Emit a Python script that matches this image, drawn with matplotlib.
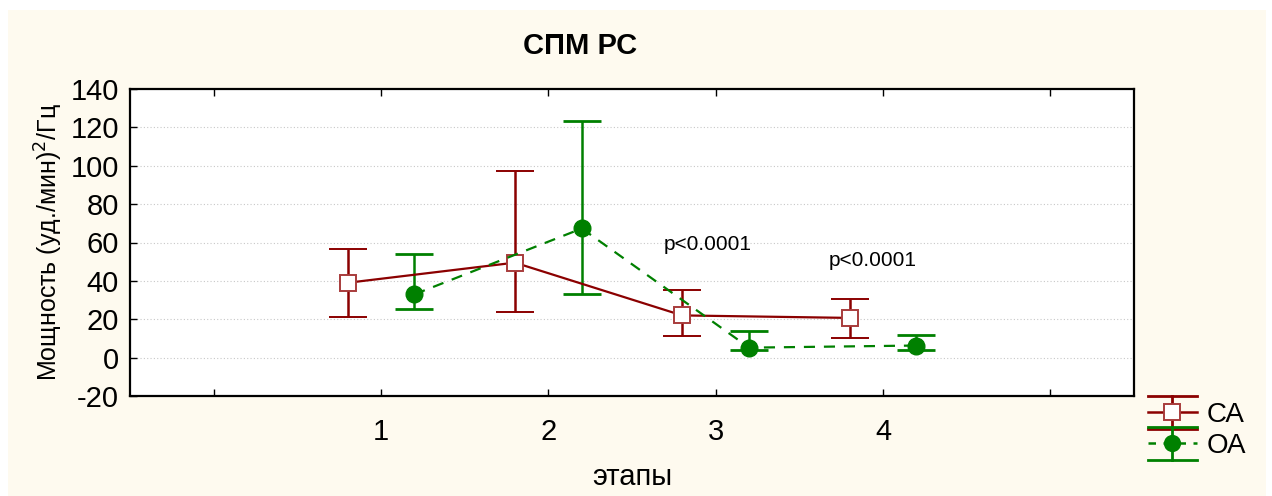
import numpy as np
import matplotlib.pyplot as plt
from matplotlib.patches import Rectangle
from matplotlib.lines import Line2D
from matplotlib.legend_handler import HandlerBase

# data
stages = [1, 2, 3, 4]
ca_mean = [39, 49.5, 22, 20.7]
ca_low = [21, 24, 11.5, 10.4]
ca_high = [56.5, 97.5, 35.5, 30.3]
oa_mean = [33, 67.3, 5.2, 6.3]
oa_low = [25.5, 33, 4.2, 3.8]
oa_high = [54.2, 123.5, 14, 11.8]
p_labels = ['p<0.0001', 'p<0.0001']
p_pos = [(2.95, 59), (3.94, 50.5)]

plt.rcParams['font.family'] = ['Liberation Sans', 'DejaVu Sans']
plt.rcParams['axes.unicode_minus'] = False

red = '#8b0000'
green = '#008000'
bg = '#fefaef'


class ErrHandler(HandlerBase):
    """legend key: wide caps above and below, stem, line and marker"""
    def __init__(self, color, ls, marker, mfc, mec):
        super().__init__()
        self.color, self.ls, self.marker, self.mfc, self.mec = color, ls, marker, mfc, mec

    def create_artists(self, legend, orig_handle, xdescent, ydescent, width, height,
                       fontsize, trans):
        cy = height / 2 - ydescent
        dy = 12
        x0, x1 = -xdescent, width - xdescent
        xm = (x0 + x1) / 2
        arts = [
            Line2D([x0, x1], [cy + dy, cy + dy], color=self.color, lw=2),
            Line2D([x0, x1], [cy - dy, cy - dy], color=self.color, lw=2),
            Line2D([xm, xm], [cy - dy, cy + dy], color=self.color, lw=2),
            Line2D([x0, x1], [cy, cy], color=self.color, lw=1.8, ls=self.ls),
            Line2D([xm], [cy], marker=self.marker, ms=11, mfc=self.mfc, mec=self.mec,
                   mew=1.4, ls='none'),
        ]
        for a in arts:
            a.set_transform(trans)
        return arts


fig = plt.figure(figsize=(12.72, 4.96), dpi=100)
fig.patch.set_facecolor('white')
fig.patches.append(Rectangle((8 / 1272, 0), 1258 / 1272, 486 / 496,
                             transform=fig.transFigure, facecolor=bg,
                             edgecolor='none', zorder=-10))
ax = fig.add_axes([130 / 1272, 1 - 396 / 496, 1004 / 1272, 307 / 496])
ax.set_facecolor('white')

x = np.array(stages, dtype=float)
ca_err = [np.array(ca_mean) - np.array(ca_low), np.array(ca_high) - np.array(ca_mean)]
oa_err = [np.array(oa_mean) - np.array(oa_low), np.array(oa_high) - np.array(oa_mean)]

ca = ax.errorbar(x - 0.2, ca_mean, yerr=ca_err, color=red, lw=1.6, elinewidth=1.8,
                 capsize=14, capthick=2, marker='s', ms=11, mfc='white', mec='#a83c3c',
                 mew=1.4, zorder=3)
oa = ax.errorbar(x + 0.2, oa_mean, yerr=oa_err, color=green, lw=1.6, elinewidth=1.8,
                 capsize=14, capthick=2, marker='o', ms=12, mfc=green, mec=green,
                 ls=(0, (5, 4)), zorder=3)

for lbl, (px, py) in zip(p_labels, p_pos):
    ax.text(px, py, lbl, ha='center', va='center', fontsize=15)

ax.set_xlim(-0.5, 5.5)
ax.set_ylim(-20, 140)
ax.set_xticks([0, 1, 2, 3, 4, 5])
ax.set_xticklabels(['', '1', '2', '3', '4', ''])
ax.set_yticks(np.arange(-20, 141, 20))
ax.tick_params(axis='both', direction='in', labelsize=21, length=5, width=1)
ax.tick_params(axis='x', top=True, pad=16)
ax.tick_params(axis='y', pad=8)
for y in range(0, 121, 20):
    ax.axhline(y, color='#c8c8c8', lw=0.8, ls=(0, (1, 2)), zorder=0)
for s in ax.spines.values():
    s.set_linewidth(1.6)

ax.set_xlabel('этапы', fontsize=21, labelpad=12)
ax.set_ylabel('Мощность (уд./мин)$^2$/Гц', fontsize=18, labelpad=4)
fig.text(580 / 1272, 1 - 46 / 496, 'СПМ РС', ha='center', va='center',
         fontsize=21, fontweight='bold')

ax.legend([ca, oa], ['СА', 'ОА'],
          handler_map={ca: ErrHandler(red, '-', 's', 'white', '#a83c3c'),
                       oa: ErrHandler(green, (0, (3, 3)), 'o', green, green)},
          loc='upper left', bbox_to_anchor=(1.0, 0.025), frameon=False,
          fontsize=20, handlelength=1.75, handletextpad=0.35, labelspacing=0.18,
          borderaxespad=0.2, borderpad=0.3)

fig.savefig('out.png', dpi=100, facecolor=fig.get_facecolor())
